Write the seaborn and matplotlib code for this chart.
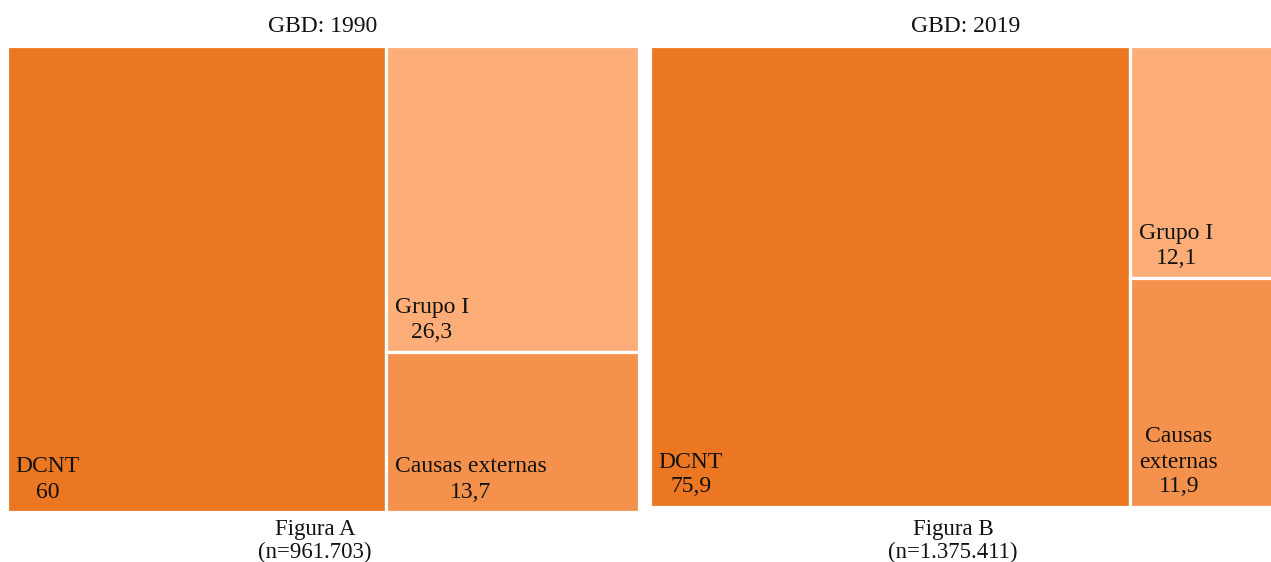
import matplotlib
matplotlib.use("Agg")
import matplotlib.pyplot as plt
from matplotlib.patches import Rectangle
import seaborn as sns

# Share of deaths (%) by cause group
categories = ["DCNT", "Grupo I", "Causas externas"]
labels_1990 = ["DCNT", "Grupo I", "Causas externas"]
labels_2019 = ["DCNT", "Grupo I", "Causas\nexternas"]
values_1990 = [60.0, 26.3, 13.7]
values_2019 = [75.9, 12.1, 11.9]
value_text_1990 = ["60", "26,3", "13,7"]
value_text_2019 = ["75,9", "12,1", "11,9"]
titles = ["GBD: 1990", "GBD: 2019"]
captions = ["Figura A\n(n=961.703)", "Figura B\n(n=1.375.411)"]

palette = dict(zip(categories, ["#EC7723", "#FDAE78", "#F4924D"]))

sns.set_theme(style="white")
plt.rcParams["font.family"] = ["Liberation Serif", "DejaVu Serif"]

W, H = 1271, 562
fig = plt.figure(figsize=(W / 100, H / 100), dpi=100)


def px_axes(left, top, right, bottom):
    return fig.add_axes([left / W, (H - bottom) / H, (right - left) / W, (bottom - top) / H])


def treemap(ax, values, labels, value_texts):
    """One big tile on the left, the remaining tiles stacked in a right column."""
    total = sum(values)
    x_split = values[0] / total
    tiles = [(0.0, 0.0, x_split, 1.0)]
    rest = values[1:]
    rest_total = sum(rest)
    y_top = 1.0
    for v in rest:
        h = v / rest_total
        tiles.append((x_split, y_top - h, 1.0 - x_split, h))
        y_top -= h
    for cat, (x, y, w, h), lab, vt in zip(categories, tiles, labels, value_texts):
        ax.add_patch(Rectangle((x, y), w, h, facecolor=palette[cat],
                               edgecolor="white", linewidth=2.3))
        ax.annotate(f"{lab}\n{vt}", xy=(x, y), xytext=(9, 9),
                    textcoords="offset pixels", ha="left", va="bottom",
                    multialignment="center", fontsize=17, color="#111111",
                    linespacing=1.25)
    ax.set_xlim(0, 1)
    ax.set_ylim(0, 1)
    ax.set_axis_off()


ax_a = px_axes(6.5, 45.5, 638.5, 511.5)
treemap(ax_a, values_1990, labels_1990, value_text_1990)
ax_b = px_axes(649.5, 45.5, 1282.5, 506.5)
treemap(ax_b, values_2019, labels_2019, value_text_2019)

for ax, title in zip([ax_a, ax_b], titles):
    ax.text(0.5, 1.0, title, transform=ax.transAxes, ha="center", va="bottom",
            fontsize=17, color="#111111").set_position((0.5, 1.018))

fig.text(315 / W, 1 - 519 / H, captions[0], ha="center", va="top",
         fontsize=16.5, color="#111111", linespacing=1.1)
fig.text(953 / W, 1 - 519 / H, captions[1], ha="center", va="top",
         fontsize=16.5, color="#111111", linespacing=1.1)

fig.savefig("out.png", dpi=100, facecolor="white")
